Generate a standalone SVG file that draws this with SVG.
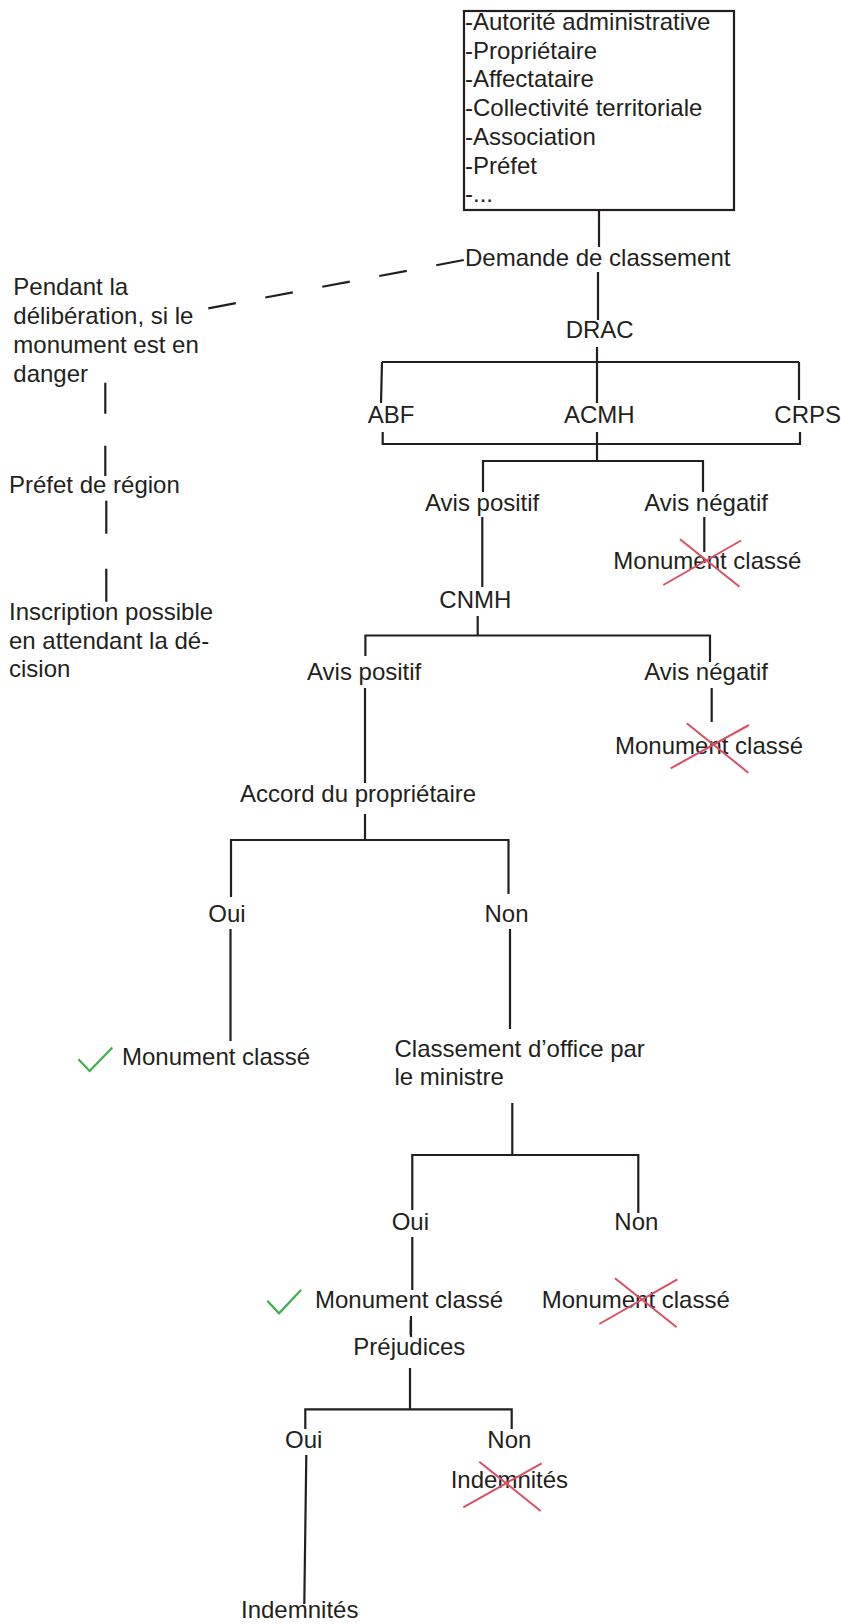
<svg xmlns="http://www.w3.org/2000/svg" width="841" height="1624" viewBox="0 0 841 1624">
<style>
text{font-family:"Liberation Sans",Arial,sans-serif;font-size:24px;fill:#231f20}
.ln{stroke:#231f20;stroke-width:2.2;fill:none}
.x{stroke:#d94f64;stroke-width:2;fill:none}
.ok{stroke:#3cb04a;stroke-width:2.2;fill:none}
</style>
<rect width="841" height="1624" fill="#fff"/>
<g id="connectors">
<path class="ln" d="M599 210V247M598 272V320M597 347V403M382 362H799M382 362L381 403M799 362V400"/>
<path class="ln" d="M382.7 432V444H800V432M597 432V461M483 492V461H703V492"/>
<path class="ln" d="M482.3 517V587M704.3 517V552"/>
<path class="ln" d="M477.7 616V635.5M365.4 656V635.5H710V662M711.7 688V722"/>
<path class="ln" d="M365 688V783M365 814V840M231 897V840H508.5V894"/>
<path class="ln" d="M230.5 929V1041M510 929V1029"/>
<path class="ln" d="M512.3 1103V1155M412.3 1210V1155H638.3V1213M412.3 1237V1290M411 1316V1337"/>
<path class="ln" d="M410.7 1320V1335M410 1368V1409.3M305.3 1429V1409.3H511.7V1429M306.3 1455L304.3 1604"/>
<path class="ln" d="M208.3 308.3L464 260" stroke-dasharray="28 30"/>
<path class="ln" d="M105.3 382.7V476" stroke-dasharray="31 32"/>
<path class="ln" d="M106.3 500.7V601.7" stroke-dasharray="33 35"/>
</g>
<g id="n-demandeurs">
<rect class="ln" x="464" y="11" width="270" height="199"/>
<text x="465" y="30">-Autorité administrative</text>
<text x="465" y="58.7">-Propriétaire</text>
<text x="465" y="87.4">-Affectataire</text>
<text x="465" y="116">-Collectivité territoriale</text>
<text x="465" y="144.8">-Association</text>
<text x="465" y="173.5">-Préfet</text>
<text x="465" y="202.2">-...</text>
</g>
<g id="n-demande"><text x="465" y="265.7">Demande de classement</text></g>
<g id="n-drac"><text x="565.7" y="338">DRAC</text></g>
<g id="n-abf"><text x="367.7" y="423.3">ABF</text></g>
<g id="n-acmh"><text x="564" y="423.3">ACMH</text></g>
<g id="n-crps"><text x="774.3" y="423.3">CRPS</text></g>
<g id="n-avis-pos-1"><text x="425" y="510.7">Avis positif</text></g>
<g id="n-avis-neg-1"><text x="644.3" y="510.7">Avis négatif</text></g>
<g id="n-refus-1">
<text x="613.3" y="569.3">Monument classé</text>
<path class="x" d="M680 539.3L739.5 586.7M663.3 585L741 540.5"/>
</g>
<g id="n-cnmh"><text x="439.3" y="608.3">CNMH</text></g>
<g id="n-avis-pos-2"><text x="307" y="680">Avis positif</text></g>
<g id="n-avis-neg-2"><text x="644.3" y="680">Avis négatif</text></g>
<g id="n-refus-2">
<text x="615" y="754">Monument classé</text>
<path class="x" d="M686.7 723.3L748.3 772.7M670.7 768.3L749 725"/>
</g>
<g id="n-accord"><text x="240" y="801.7">Accord du propriétaire</text></g>
<g id="n-oui-1"><text x="208.3" y="921.7">Oui</text></g>
<g id="n-non-1"><text x="484.5" y="921.7">Non</text></g>
<g id="n-classe-1">
<path class="ok" d="M78.4 1059.3L89.6 1071L112.4 1047.5"/>
<text x="122" y="1065">Monument classé</text>
</g>
<g id="n-office">
<text x="394.5" y="1056.7">Classement d’office par</text>
<text x="394.5" y="1085">le ministre</text>
</g>
<g id="n-oui-2"><text x="391.7" y="1230">Oui</text></g>
<g id="n-non-2"><text x="614.3" y="1230">Non</text></g>
<g id="n-classe-2">
<path class="ok" d="M267.3 1300.7L279 1313.3L301 1290"/>
<text x="315" y="1308.3">Monument classé</text>
</g>
<g id="n-refus-3">
<text x="541.7" y="1308.3">Monument classé</text>
<path class="x" d="M615 1278.3L676.7 1327.3M599.3 1324L677.3 1279.3"/>
</g>
<g id="n-prejudices"><text x="353.3" y="1355">Préjudices</text></g>
<g id="n-oui-3"><text x="285" y="1447.7">Oui</text></g>
<g id="n-non-3"><text x="487.3" y="1447.7">Non</text></g>
<g id="n-indem-refus">
<text x="450.7" y="1488.3">Indemnités</text>
<path class="x" d="M479.3 1461.7L540.7 1511M463.3 1507.3L541.7 1463.3"/>
</g>
<g id="n-indemnites"><text x="241" y="1618.3">Indemnités</text></g>
<g id="n-pendant">
<text x="13.3" y="295">Pendant la</text>
<text x="13.3" y="324">délibération, si le</text>
<text x="13.3" y="353.3">monument est en</text>
<text x="13.3" y="381.7">danger</text>
</g>
<g id="n-prefet-region"><text x="9" y="493.3">Préfet de région</text></g>
<g id="n-inscription">
<text x="9" y="620">Inscription possible</text>
<text x="9" y="648.7">en attendant la dé-</text>
<text x="9" y="677.4">cision</text>
</g>
</svg>
